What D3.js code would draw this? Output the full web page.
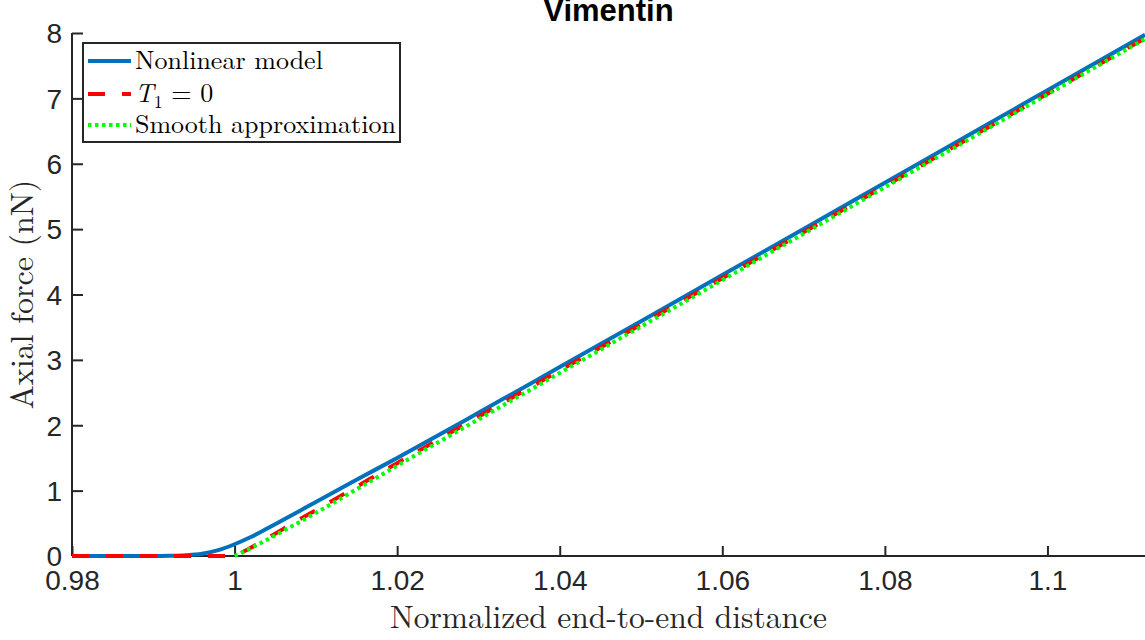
<!DOCTYPE html>
<html>
<head>
<meta charset="utf-8">
<script src="https://cdn.jsdelivr.net/npm/d3@7"></script>
<style>
html,body{margin:0;padding:0;background:#fff;}
svg{display:block;}
</style>
</head>
<body>
<svg id="chart" width="1145" height="640"></svg>
<script>
// ---- data ----
const nonlinearX = [0.98, 0.99, 0.992, 0.994, 0.996, 0.998, 1.000, 1.002, 1.004, 1.006, 1.008, 1.010, 1.015, 1.02, 1.03, 1.04, 1.05, 1.06, 1.07, 1.08, 1.09, 1.10, 1.112];
const nonlinearY = [0, 0, 0.003, 0.012, 0.035, 0.09, 0.18, 0.29, 0.42, 0.555, 0.69, 0.825, 1.165, 1.50, 2.19, 2.89, 3.59, 4.297, 5.003, 5.71, 6.417, 7.124, 7.972];

const t1ZeroX = [0.98, 1.000, 1.001, 1.002, 1.004, 1.006, 1.008, 1.010, 1.015, 1.02, 1.03, 1.04, 1.05, 1.06, 1.07, 1.08, 1.09, 1.10, 1.112];
const t1ZeroY = [0, 0, 0.06, 0.125, 0.27, 0.415, 0.56, 0.70, 1.06, 1.42, 2.13, 2.836, 3.542, 4.248, 4.954, 5.66, 6.366, 7.072, 7.92];

const smoothX = [1.000, 1.002, 1.004, 1.006, 1.008, 1.010, 1.015, 1.02, 1.03, 1.04, 1.05, 1.06, 1.07, 1.08, 1.09, 1.10, 1.112];
const smoothY = [0, 0.12, 0.25, 0.385, 0.52, 0.66, 1.02, 1.38, 2.09, 2.80, 3.51, 4.22, 4.93, 5.64, 6.35, 7.06, 7.91];

const xTicks = [0.98, 1.00, 1.02, 1.04, 1.06, 1.08, 1.10];
const yTicks = [0, 1, 2, 3, 4, 5, 6, 7, 8];

const titleText = "Vimentin";
const xLabel = "Normalized end-to-end distance";
const yLabel = "Axial force (nN)";
const legendLabels = ["Nonlinear model", "T1 = 0", "Smooth approximation"];

// ---- layout ----
const svg = d3.select("#chart");
const mLeft = 72, mRight = 1145, mTop = 33, mBottom = 556;
const axisColor = "#262626";

const x = d3.scaleLinear().domain([0.98, 1.112]).range([mLeft, mRight]);
const y = d3.scaleLinear().domain([0, 8]).range([mBottom, mTop]);

const fmt = d => String(+d.toFixed(2));

// axes
const xAxis = d3.axisBottom(x).tickValues(xTicks).tickFormat(fmt).tickSizeInner(-10).tickSizeOuter(0).tickPadding(14);
const yAxis = d3.axisLeft(y).tickValues(yTicks).tickFormat(fmt).tickSizeInner(-11).tickSizeOuter(0).tickPadding(10);

const gx = svg.append("g").attr("transform", `translate(0,${mBottom})`).call(xAxis);
const gy = svg.append("g").attr("transform", `translate(${mLeft},0)`).call(yAxis);

[gx, gy].forEach(g => {
  g.select(".domain").attr("stroke", axisColor).attr("stroke-width", 2);
  g.selectAll(".tick line").attr("stroke", axisColor).attr("stroke-width", 2);
  g.selectAll(".tick text").attr("fill", axisColor)
    .style("font-family", "'Liberation Sans', Arial, Helvetica, sans-serif")
    .style("font-size", "28px");
});
gx.selectAll(".tick text").attr("dy", "0.71em");
gy.selectAll(".tick text").attr("dy", "0.35em");

gy.select(".domain").attr("d", `M0,${mBottom}V${mTop}`);
gx.select(".domain").attr("d", `M${mLeft},0H${mRight}`);

// lines
const line = d3.line().x(d => x(d[0])).y(d => y(d[1])).curve(d3.curveMonotoneX);
const zip = (a, b) => a.map((v, i) => [v, b[i]]);

const plot = svg.append("g");
plot.append("path").datum(zip(nonlinearX, nonlinearY)).attr("d", line)
  .attr("fill", "none").attr("stroke", "#0072BD").attr("stroke-width", 4);
plot.append("path").datum(zip(t1ZeroX, t1ZeroY)).attr("d", line)
  .attr("fill", "none").attr("stroke", "#FF0000").attr("stroke-width", 4)
  .attr("stroke-dasharray", "17,17");
plot.append("path").datum(zip(smoothX, smoothY)).attr("d", line)
  .attr("fill", "none").attr("stroke", "#00FF00").attr("stroke-width", 4)
  .attr("stroke-dasharray", "3.5,3.5");

// title
svg.append("text").attr("x", (mLeft + mRight) / 2).attr("y", 21)
  .attr("text-anchor", "middle")
  .style("font-family", "'Liberation Sans', Arial, Helvetica, sans-serif")
  .style("font-weight", "bold").style("font-size", "31px")
  .attr("fill", "#000").text(titleText);

// axis labels
const serif = "'Latin Modern Roman','CMU Serif','Liberation Serif','Times New Roman',serif";
svg.append("text").attr("x", (mLeft + mRight) / 2).attr("y", 628)
  .attr("text-anchor", "middle")
  .style("font-family", serif).style("font-size", "31.5px")
  .attr("fill", axisColor).text(xLabel);

svg.append("text")
  .attr("transform", `translate(33,${(mTop + mBottom) / 2}) rotate(-90)`)
  .attr("text-anchor", "middle")
  .style("font-family", serif).style("font-size", "32px")
  .attr("fill", axisColor).text(yLabel);

// legend
const lg = svg.append("g");
lg.append("rect").attr("x", 83).attr("y", 43).attr("width", 317).attr("height", 99)
  .attr("fill", "#fff").attr("stroke", axisColor).attr("stroke-width", 2);

const legendStyles = [
  {color: "#0072BD", dash: null},
  {color: "#FF0000", dash: "17,17"},
  {color: "#00FF00", dash: "3.5,3.5"}
];
const rowY = [61, 94, 125];
legendStyles.forEach((s, i) => {
  const l = lg.append("line").attr("x1", 88).attr("x2", 131).attr("y1", rowY[i]).attr("y2", rowY[i])
    .attr("stroke", s.color).attr("stroke-width", 4);
  if (s.dash) l.attr("stroke-dasharray", s.dash);
});
const legendText = (i) => lg.append("text").attr("x", 135).attr("y", rowY[i] + 8)
  .style("font-family", serif).style("font-size", "26px").attr("fill", "#000");

legendText(0).text(legendLabels[0]);
const t2 = legendText(1);
t2.append("tspan").style("font-style", "italic").text("T");
t2.append("tspan").attr("dy", 6).style("font-size", "18px").text("1");
t2.append("tspan").attr("dy", -6).text(" = 0");
legendText(2).text(legendLabels[2]);
</script>
</body>
</html>
